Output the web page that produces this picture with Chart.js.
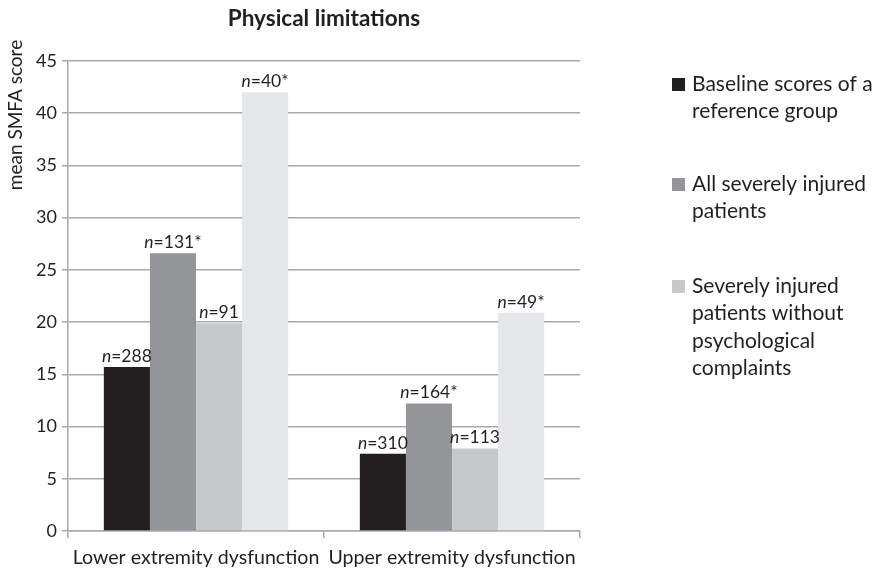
<!DOCTYPE html>
<html>
<head>
<meta charset="utf-8">
<script src="https://cdn.jsdelivr.net/npm/chart.js@4"></script>
<style>
  html, body { margin: 0; padding: 0; background: #fff; }
  #wrap { width: 881px; height: 574px; position: relative; }
</style>
</head>
<body>
<div id="wrap"><canvas id="chart" width="881" height="574"></canvas></div>
<script>
// Data
const categories = ["Lower extremity dysfunction", "Upper extremity dysfunction"]
const baselineScores = [15.7, 7.4]
const allInjured = [26.6, 12.2]
const noPsychComplaints = [19.9, 7.9]
const extraGroup = [42.0, 20.9]
const baselineN = ["288", "310"]
const allInjuredN = ["131*", "164*"]
const noPsychN = ["91", "113"]
const extraN = ["40*", "49*"]
const yTicks = [0, 5, 10, 15, 20, 25, 30, 35, 40, 45]

const FONT = "Lato, 'Open Sans', sans-serif"
const TEXT = "#231f20"
const GRID = "#a7a9ac"

const legendLines = [
  ["Baseline scores of a", "reference group"],
  ["All severely injured", "patients"],
  ["Severely injured", "patients without", "psychological", "complaints"],
]

// custom drawing: title, y title, n= labels, legend
const decorPlugin = {
  id: "decor",
  afterDatasetsDraw(chart) {
    const ctx = chart.ctx
    const area = chart.chartArea
    ctx.save()
    ctx.fillStyle = TEXT

    // title
    ctx.font = "bold 22.5px " + FONT
    ctx.textAlign = "center"
    ctx.textBaseline = "middle"
    ctx.fillText("Physical limitations", (area.left + area.right) / 2, 19)

    // y axis title
    ctx.save()
    ctx.translate(16, 115)
    ctx.rotate(-Math.PI / 2)
    ctx.font = "19px " + FONT
    ctx.fillText("mean SMFA score", 0, 0)
    ctx.restore()

    // n= labels
    const nf = 17.5
    chart.data.datasets.forEach((ds, di) => {
      const meta = chart.getDatasetMeta(di)
      meta.data.forEach((bar, i) => {
        const rest = "=" + ds.nLabels[i]
        ctx.font = "italic " + nf + "px " + FONT
        const wN = ctx.measureText("n").width
        ctx.font = nf + "px " + FONT
        const wR = ctx.measureText(rest).width
        const x0 = bar.x - (wN + wR) / 2
        const y = bar.y - 2
        ctx.textAlign = "left"
        ctx.textBaseline = "bottom"
        ctx.font = "italic " + nf + "px " + FONT
        ctx.fillText("n", x0, y)
        ctx.font = nf + "px " + FONT
        ctx.fillText(rest, x0 + wN, y)
      })
    })

    // legend (first three series only)
    const lx = 672
    const tx = 692
    const starts = [84, 184, 286]
    const lineH = 27.5
    ctx.font = "21px " + FONT
    ctx.textAlign = "left"
    ctx.textBaseline = "middle"
    legendLines.forEach((lines, k) => {
      ctx.fillStyle = chart.data.datasets[k].backgroundColor
      ctx.fillRect(lx, starts[k] - 6, 13, 13)
      ctx.fillStyle = TEXT
      lines.forEach((t, j) => ctx.fillText(t, tx, starts[k] + j * lineH))
    })
    ctx.restore()
  },
}

document.addEventListener("DOMContentLoaded", () => {
  const ctx = document.getElementById("chart")
  new Chart(ctx, {
    type: "bar",
    data: {
      labels: categories,
      datasets: [
        { label: "Baseline scores of a reference group", data: baselineScores, nLabels: baselineN, backgroundColor: "#231f20" },
        { label: "All severely injured patients", data: allInjured, nLabels: allInjuredN, backgroundColor: "#939598" },
        { label: "Severely injured patients without psychological complaints", data: noPsychComplaints, nLabels: noPsychN, backgroundColor: "#c7c8ca" },
        { label: "", data: extraGroup, nLabels: extraN, backgroundColor: "#e6e7e8" },
      ],
    },
    options: {
      responsive: false,
      animation: false,
      devicePixelRatio: 1,
      layout: { padding: { top: 61, right: 301, left: 0, bottom: 0 } },
      datasets: { bar: { categoryPercentage: 0.72, barPercentage: 1.0 } },
      plugins: {
        legend: { display: false },
        title: { display: false },
        tooltip: { enabled: false },
      },
      scales: {
        x: {
          grid: { offset: true, drawOnChartArea: false, drawTicks: true, tickLength: 7, color: GRID, lineWidth: 1.5 },
          border: { color: GRID, width: 1.5 },
          ticks: { color: TEXT, font: { family: FONT, size: 19.6 }, padding: 8, maxRotation: 0 },
          afterFit: (s) => { s.height = 43 },
        },
        y: {
          min: 0,
          max: 45,
          afterBuildTicks: (s) => { s.ticks = yTicks.map((v) => ({ value: v })) },
          grid: { color: GRID, lineWidth: 1.5, tickLength: 6 },
          border: { color: GRID, width: 1.5 },
          ticks: { color: TEXT, font: { family: FONT, size: 18 }, padding: 5 },
          afterFit: (s) => { s.width = 68 },
        },
      },
    },
    plugins: [decorPlugin],
  })
})
</script>
</body>
</html>
